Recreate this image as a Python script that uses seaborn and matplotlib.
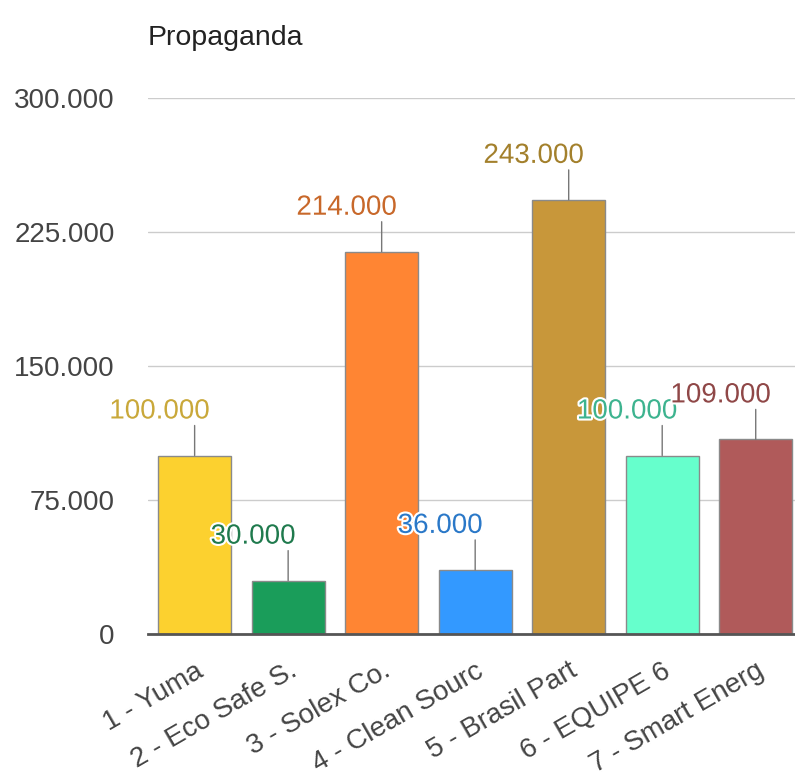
import matplotlib
matplotlib.use("Agg")
import matplotlib.pyplot as plt
import matplotlib.patheffects as pe
import pandas as pd
import seaborn as sns

# ---- Data ----
EMPRESAS = [
    "1 - Yuma",
    "2 - Eco Safe S.",
    "3 - Solex Co.",
    "4 - Clean Sourc",
    "5 - Brasil Part",
    "6 - EQUIPE 6",
    "7 - Smart Energ",
]
VALORES = [100000, 30000, 214000, 36000, 243000, 100000, 109000]
BAR_COLORS = ["#FCD12F", "#1A9D5A", "#FF8533", "#3399FF", "#C8973A", "#66FFCC", "#B05A5A"]
LABEL_COLORS = ["#C9A83A", "#1F7A4D", "#C8682A", "#2A78C8", "#A3802C", "#3DB38F", "#8F4747"]
Y_TICKS = [0, 75000, 150000, 225000, 300000]

FS = 20


def fmt(v):
    return f"{v:,.0f}".replace(",", ".")


def main():
    sns.set_theme(style="white")
    plt.rcParams["font.family"] = ["Liberation Sans", "DejaVu Sans"]

    df = pd.DataFrame({"empresa": EMPRESAS, "valor": VALORES})

    fig = plt.figure(figsize=(7.95, 7.84), dpi=100)
    ax = fig.add_axes([0.186, 0.191, 0.814, 0.684])

    sns.barplot(data=df, x="empresa", y="valor", hue="empresa",
                palette=BAR_COLORS, legend=False, width=0.78,
                edgecolor="#8a8a8a", linewidth=1, saturation=1, ax=ax, zorder=3)

    ax.set_ylim(0, 300000)
    ax.set_xlim(-0.5, 6.42)
    ax.set_yticks(Y_TICKS)
    ax.set_yticklabels([fmt(t) for t in Y_TICKS], fontsize=FS, color="#444444")
    ax.yaxis.grid(True, color="#cccccc", linewidth=1, zorder=0)
    ax.set_axisbelow(True)
    for s in ["top", "right", "left"]:
        ax.spines[s].set_visible(False)
    ax.spines["bottom"].set_color("#555555")
    ax.spines["bottom"].set_linewidth(2)
    ax.spines["bottom"].set_zorder(5)
    ax.tick_params(axis="y", length=0, pad=24)
    ax.tick_params(axis="x", length=0, pad=17)
    ax.set_xlabel("")
    ax.set_ylabel("")
    ax.set_xticks(range(len(EMPRESAS)))
    ax.set_xticklabels(EMPRESAS, rotation=30, ha="right", va="top",
                       rotation_mode="anchor", fontsize=FS, color="#444444")

    # value labels with leader lines
    for i, (v, c) in enumerate(zip(VALORES, LABEL_COLORS)):
        ax.annotate("", xy=(i, v), xytext=(0, 30), textcoords="offset pixels",
                    xycoords="data",
                    arrowprops=dict(arrowstyle="-", color="#777777", lw=1,
                                    shrinkA=0, shrinkB=0), zorder=4)
        ax.annotate(fmt(v), xy=(i, v), xytext=(-35, 44), textcoords="offset pixels",
                    ha="center", va="center", fontsize=FS, color=c, zorder=6,
                    path_effects=[pe.withStroke(linewidth=3, foreground="white")])

    fig.text(148 / 795, 1 - 38 / 784, "Propaganda", fontsize=20.5, color="#222222",
             ha="left", va="center")

    fig.savefig("out.png", dpi=100)


if __name__ == "__main__":
    main()
